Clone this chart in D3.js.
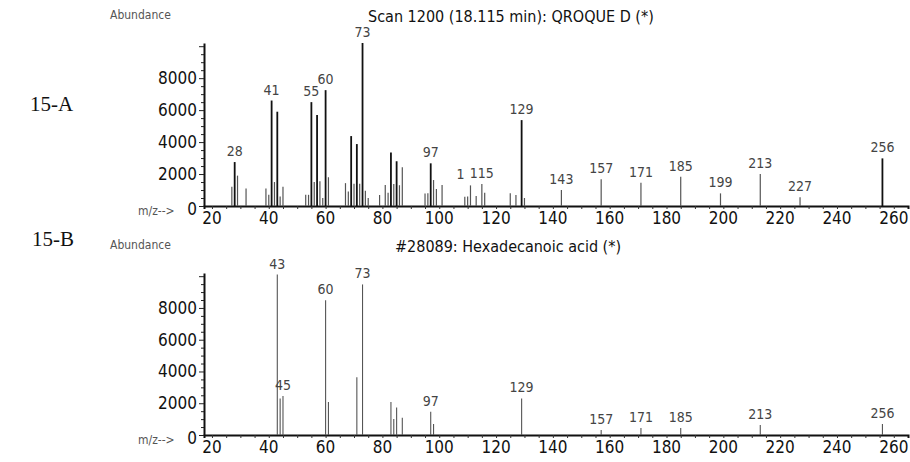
<!DOCTYPE html>
<html>
<head>
<meta charset="utf-8">
<script src="https://cdn.jsdelivr.net/npm/d3@7"></script>
<style>
  body { margin: 0; background: #fff; }
  svg text { font-family: "Liberation Sans Narrow", "DejaVu Sans Condensed", "Liberation Sans", sans-serif; }
  .tick-lbl { font-size: 17px; fill: #111; }
  .peak-lbl { font-size: 14px; fill: #444; }
  .title { font-size: 16px; fill: #111; }
  .ab-lbl { font-size: 12px; fill: #555; }
  .panel-lbl { font-family: "Liberation Serif", "Times New Roman", serif !important; font-size: 21px; fill: #111; }
</style>
</head>
<body>
<svg id="chart"></svg>
<script>
// ----- data -----
// 15-A : sample spectrum
const topMz = [27, 28, 29, 32, 39, 40, 41, 42, 43, 44, 45, 53, 54, 55, 56, 57, 58, 59, 60, 61,
  67, 68, 69, 70, 71, 72, 73, 74, 75, 79, 81, 82, 83, 84, 85, 86, 87,
  95, 96, 97, 98, 99, 101, 109, 110, 111, 113, 115, 116, 125, 127, 129, 130,
  143, 157, 171, 185, 199, 213, 227, 256];
const topAbund = [1200, 2750, 1900, 1100, 1100, 700, 6600, 1500, 5900, 600, 1200, 700, 700, 6500, 1500, 5700, 1550, 500, 7250, 1800,
  1430, 900, 4375, 1400, 3875, 1400, 10200, 950, 500, 690, 1310, 830, 3350, 1375, 2800, 1300, 2420,
  790, 800, 2670, 1625, 1060, 1310, 580, 600, 1290, 625, 1375, 830, 800, 690, 5375, 500,
  1000, 1670, 1460, 1830, 790, 2000, 540, 2980];
const topLabelMz = [28, 41, 55, 60, 73, 97, 111, 115, 129, 143, 157, 171, 185, 199, 213, 227, 256];
const topLabelText = ["28", "41", "55", "60", "73", "97", "1", "115", "129", "143", "157", "171", "185", "199", "213", "227", "256"];

// 15-B : library spectrum
const botMz = [43, 44, 45, 60, 61, 71, 73, 83, 84, 85, 87, 97, 98, 129, 157, 171, 185, 213, 256];
const botAbund = [10100, 2300, 2450, 8480, 2080, 3640, 9480, 2080, 1000, 1730, 1080, 1460, 690, 2300, 310, 440, 440, 625, 690];
const botLabelMz = [43, 45, 60, 73, 97, 129, 157, 171, 185, 213, 256];

const xTicks = [20, 40, 60, 80, 100, 120, 140, 160, 180, 200, 220, 240, 260];
const yTicks = [0, 2000, 4000, 6000, 8000];

const W = 910, H = 462;
const svg = d3.select("#chart").attr("width", W).attr("height", H);

const x = d3.scaleLinear().domain([17.2, 265]).range([204, 908]);

function drawPanel(cfg) {
    const y = d3.scaleLinear().domain([0, 10200]).range([cfg.base, cfg.top]);
    const g = svg.append("g");

    // x axis: major labels every 20, minor ticks every 5
    const xAxis = g.append("g")
        .attr("transform", `translate(0,${cfg.base})`)
        .call(d3.axisBottom(x).tickValues(d3.range(20, 265, 5)).tickSize(3).tickFormat(""));
    xAxis.select(".domain").attr("stroke", "#111").attr("stroke-width", 2);
    xAxis.selectAll(".tick line").attr("stroke", "#333");
    g.selectAll(".xlbl").data(xTicks).join("text")
        .attr("class", "tick-lbl")
        .attr("x", d => x(d)).attr("y", cfg.base + 18)
        .attr("text-anchor", "middle").text(d => d);

    // y axis: minor ticks every 500
    const yAxis = g.append("g")
        .attr("transform", "translate(204,0)")
        .call(d3.axisLeft(y).tickValues(d3.range(0, 10201, 500)).tickSize(3).tickFormat("").tickSizeOuter(0));
    yAxis.select(".domain").attr("stroke", "#111").attr("stroke-width", 2);
    yAxis.selectAll(".tick line").attr("stroke", "#222").attr("x2", d => d % 2000 === 0 ? -5 : -3);
    g.selectAll(".ylbl").data(yTicks).join("text")
        .attr("class", "tick-lbl")
        .attr("x", 197).attr("y", d => y(d) + 6 + (d === 0 ? 3 : 0))
        .attr("text-anchor", "end").text(d => d);

    g.append("text").attr("class", "ab-lbl").attr("x", 110).attr("y", cfg.top - 24).text("Abundance");
    g.append("text").attr("class", "ab-lbl").attr("x", 138).attr("y", cfg.base + 9).text("m/z-->");
    g.append("text").attr("class", "title").attr("x", cfg.titleX).attr("y", cfg.top - 21).text(cfg.title);
    g.append("text").attr("class", "panel-lbl").attr("x", cfg.panelX).attr("y", cfg.panelY).text(cfg.panel);

    // sticks
    const peaks = cfg.mz.map((m, i) => ({ m, a: cfg.ab[i] }));
    g.selectAll(".stick").data(peaks).join("line")
        .attr("x1", d => x(d.m)).attr("x2", d => x(d.m))
        .attr("y1", cfg.base).attr("y2", d => y(d.a))
        .attr("stroke", d => cfg.color(d))
        .attr("stroke-width", d => cfg.width(d));

    // peak labels (the "1" of m/z 111 is pushed left, as in the print)
    const lab = cfg.labels.map((m, i) => ({ m, a: cfg.ab[cfg.mz.indexOf(m)], t: cfg.texts ? cfg.texts[i] : String(m) }));
    g.selectAll(".pk").data(lab).join("text")
        .attr("class", "peak-lbl")
        .attr("x", d => x(d.m) + (d.t === "1" ? -10 : 0)).attr("y", d => y(d.a) - 6)
        .attr("text-anchor", "middle").text(d => d.t);
}

drawPanel({
    base: 206, top: 43, mz: topMz, ab: topAbund,
    labels: topLabelMz, texts: topLabelText,
    title: "Scan 1200 (18.115 min): QROQUE D (*)", titleX: 368,
    panel: "15-A", panelX: 30, panelY: 111,
    color: d => d.a > 2500 ? "#111" : "#555",
    width: d => d.a > 2500 ? 1.8 : 1.2
});

drawPanel({
    base: 435, top: 273, mz: botMz, ab: botAbund,
    labels: botLabelMz,
    title: "#28089: Hexadecanoic acid (*)", titleX: 395,
    panel: "15-B", panelX: 32, panelY: 246,
    color: d => "#555",
    width: d => 1.1
});
</script>
</body>
</html>
